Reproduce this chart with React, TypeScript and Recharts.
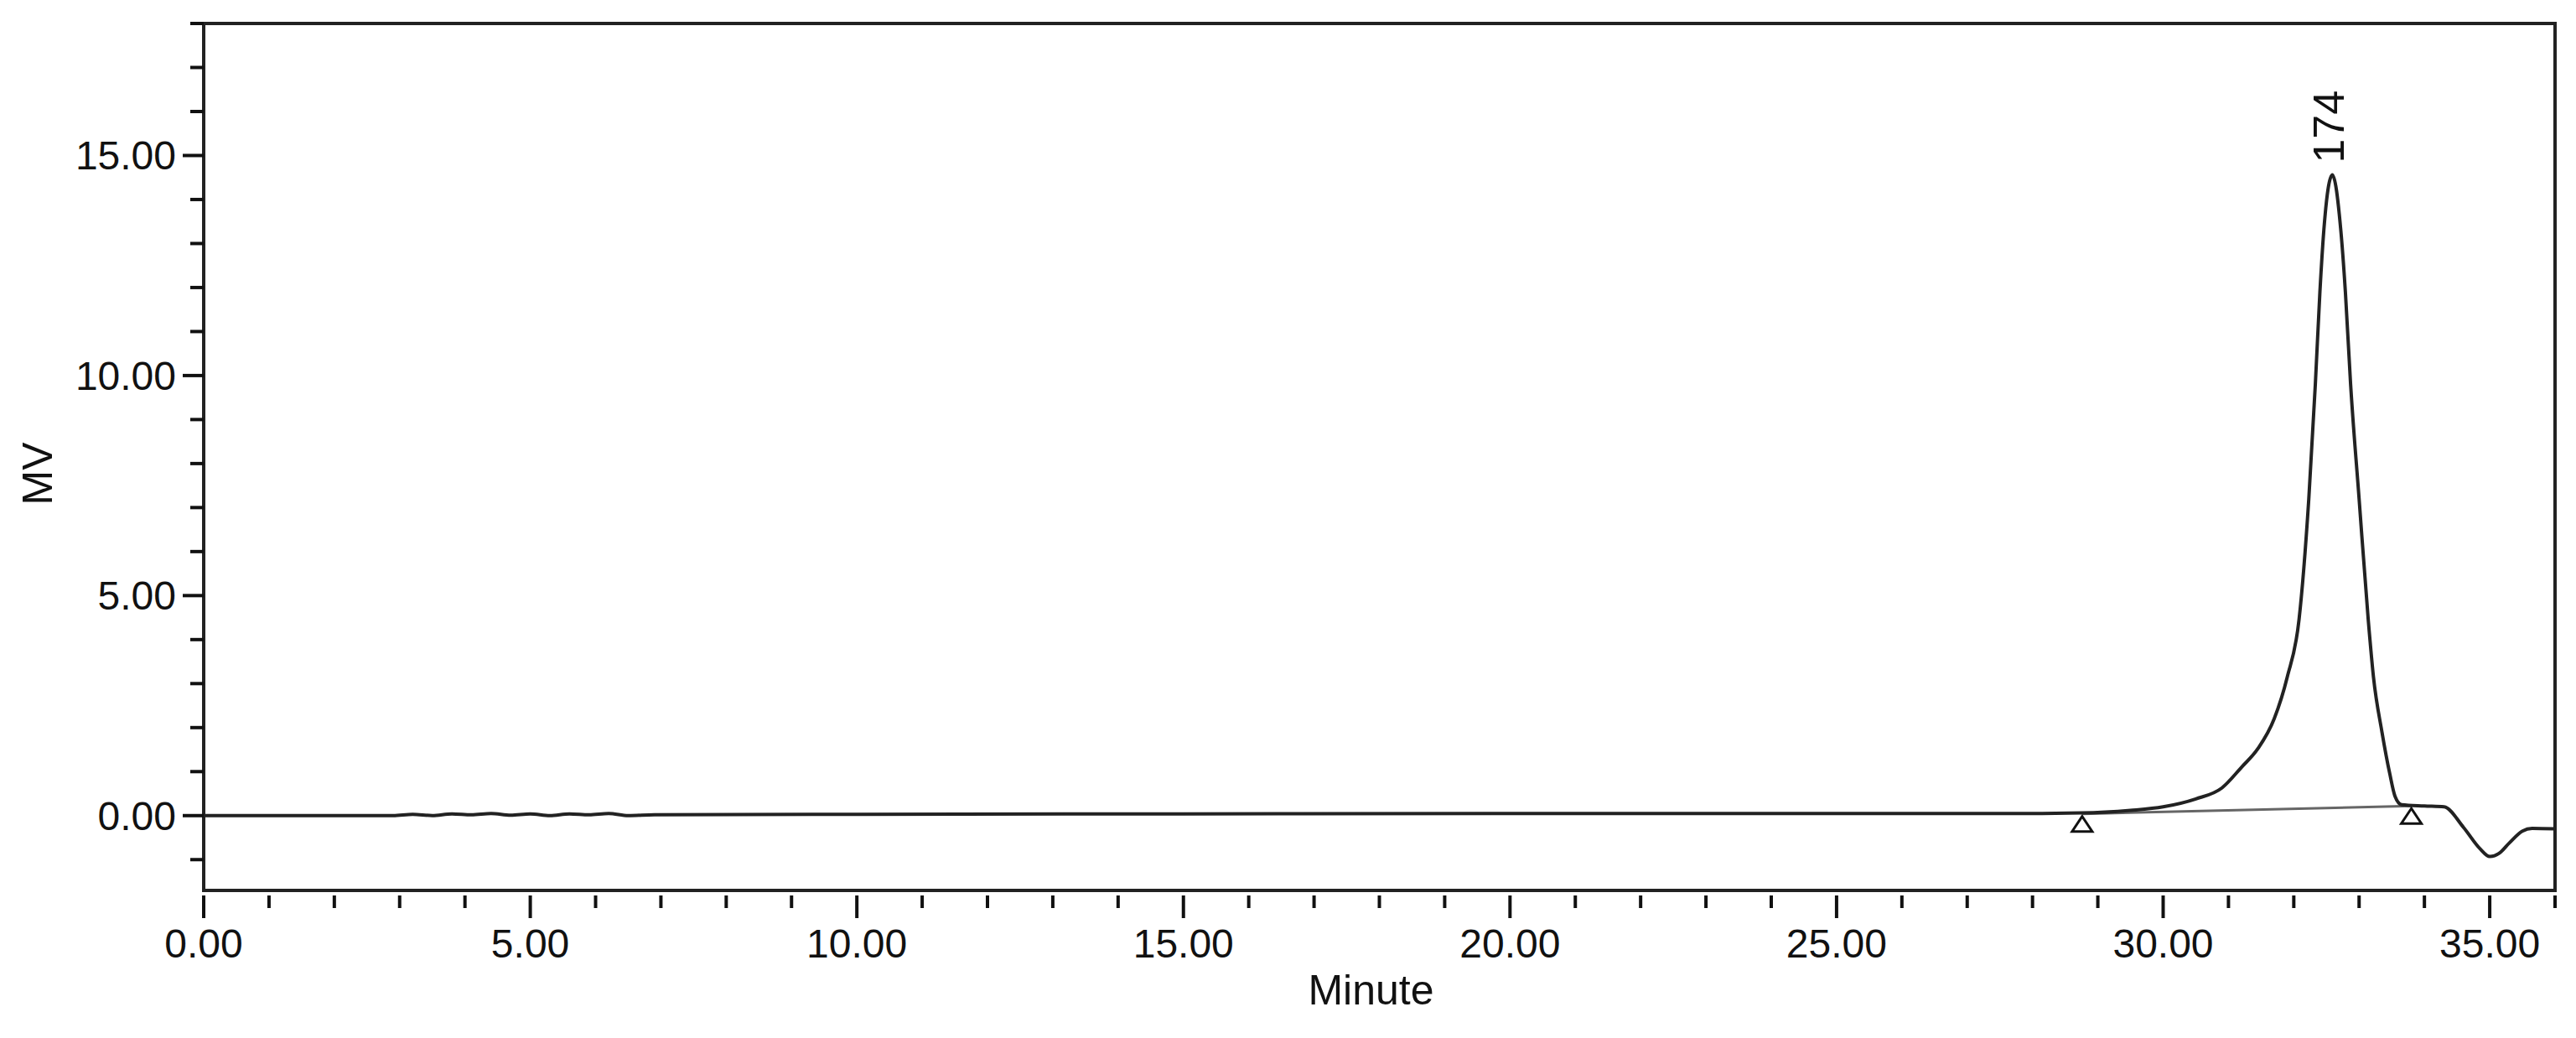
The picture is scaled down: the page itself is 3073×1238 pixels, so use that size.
import React from "react";
import {
  ComposedChart,
  Line,
  XAxis,
  YAxis,
  ReferenceArea,
  ReferenceDot,
} from "recharts";

// retention time (min) and detector signal (mV)
const times = [
  0, 2.9, 3.2, 3.5, 3.8, 4.1, 4.4, 4.7, 5.0, 5.3, 5.6, 5.9, 6.2, 6.5, 6.9, 10, 15, 20, 25, 28,
  28.76, 29.5, 30.0, 30.5, 30.9, 31.2, 31.45, 31.7, 31.9, 32.08, 32.23, 32.33, 32.4, 32.46,
  32.59, 32.72, 32.79, 32.87, 33.0, 33.14, 33.22, 33.35, 33.47, 33.55, 33.65, 34.0, 34.3,
  34.6, 34.85, 35.0, 35.15, 35.3, 35.5, 35.65, 36,
];
const signal = [
  0, 0, 0.03, 0.0, 0.04, 0.02, 0.05, 0.01, 0.04, 0.0, 0.04, 0.02, 0.05, 0.0, 0.02, 0.03, 0.04, 0.05, 0.05, 0.05,
  0.06, 0.12, 0.2, 0.38, 0.63, 1.1, 1.52, 2.2, 3.15, 4.45, 7.2, 9.8, 11.9, 13.3,
  14.56, 13.3, 11.9, 9.8, 7.2, 4.45, 3.15, 1.9, 0.95, 0.44, 0.25, 0.22, 0.2,
  -0.27, -0.75, -0.93, -0.85, -0.62, -0.35, -0.29, -0.3,
];

// integration baseline start / end
const baselineTimes = [28.76, 33.8];
const baselineValues = [0.04, 0.22];

const peakName = "174";

const xTicks = Array.from({ length: 37 }, (_, i) => i);
const yTicks = Array.from({ length: 20 }, (_, i) => i - 1);

const data = times.map((t, i) => ({ t, mv: signal[i] }));
const baseData = baselineTimes.map((t, i) => ({ t, mv: baselineValues[i] }));
const peakIdx = signal.indexOf(Math.max(...signal));

const FONT = "Liberation Sans, Arial, sans-serif";

const XTick = (props: any) => {
  const { x, y, payload } = props;
  const v = payload.value;
  const major = v % 5 === 0;
  return (
    <g>
      <line x1={x} x2={x} y1={y + 6} y2={y + (major ? 33 : 21)} stroke="#111" strokeWidth={4} />
      {major && (
        <text x={x} y={y + 80} textAnchor="middle" fontSize={48} fontFamily={FONT} fill="#111">
          {v.toFixed(2)}
        </text>
      )}
    </g>
  );
};

const YTick = (props: any) => {
  const { x, y, payload } = props;
  const v = payload.value;
  const major = v % 5 === 0;
  return (
    <g>
      <line x1={x - (major ? 25 : 16)} x2={x} y1={y} y2={y} stroke="#111" strokeWidth={4} />
      {major && (
        <text x={x - 33} y={y + 17} textAnchor="end" fontSize={48} fontFamily={FONT} fill="#111">
          {v.toFixed(2)}
        </text>
      )}
    </g>
  );
};

const Tri = (props: any) => {
  const { cx, cy } = props;
  return (
    <polygon
      points={`${cx},${cy + 3} ${cx - 12},${cy + 21} ${cx + 12},${cy + 21}`}
      fill="#fff"
      stroke="#111"
      strokeWidth={3}
    />
  );
};

const PeakLabel = (props: any) => {
  const { viewBox } = props;
  const x = viewBox.x - 4;
  const y = viewBox.y - 14;
  return (
    <text
      x={x}
      y={y}
      transform={`rotate(-90 ${x} ${y})`}
      textAnchor="start"
      dominantBaseline="central"
      fontSize={52}
      fontFamily={FONT}
      fill="#111"
    >
      {peakName}
    </text>
  );
};

export default function App() {
  return (
    <div style={{ width: 3073, height: 1238, background: "#fff" }}>
      <style>{`body{margin:0}`}</style>
      <ComposedChart
        width={3073}
        height={1238}
        margin={{ top: 28, right: 25, left: 43, bottom: 76 }}
      >
        <XAxis
          type="number"
          dataKey="t"
          domain={[0, 36]}
          ticks={xTicks}
          interval={0}
          allowDataOverflow
          axisLine={false}
          tickLine={false}
          tickSize={0}
          tickMargin={0}
          height={100}
          tick={<XTick />}
          label={(p: any) => {
            const vb = p.viewBox;
            return (
              <text
                x={vb.x + vb.width / 2 - 10}
                y={vb.y + 136}
                textAnchor="middle"
                fontSize={50}
                fontFamily={FONT}
                fill="#111"
              >
                Minute
              </text>
            );
          }}
        />
        <YAxis
          type="number"
          domain={[-1.7, 18]}
          ticks={yTicks}
          interval={0}
          allowDataOverflow
          axisLine={false}
          tickLine={false}
          tickSize={0}
          tickMargin={0}
          width={200}
          tick={<YTick />}
          label={() => {
            const cx = 45;
            const cy = 565;
            return (
              <text
                x={cx}
                y={cy}
                transform={`rotate(-90 ${cx} ${cy})`}
                textAnchor="middle"
                dominantBaseline="central"
                fontSize={50}
                fontFamily={FONT}
                fill="#111"
              >
                MV
              </text>
            );
          }}
        />
        <ReferenceArea
          x1={0}
          x2={36}
          y1={-1.7}
          y2={18}
          fill="none"
          stroke="#222"
          strokeWidth={4}
        />
        <Line
          data={baseData}
          dataKey="mv"
          type="linear"
          stroke="#666"
          strokeWidth={3}
          dot={(p: any) => <Tri key={`tri-${p.index}`} {...p} />}
          activeDot={false}
          isAnimationActive={false}
        />
        <Line
          data={data}
          dataKey="mv"
          type="monotone"
          stroke="#222"
          strokeWidth={4}
          dot={false}
          activeDot={false}
          isAnimationActive={false}
        />
        <ReferenceDot
          x={times[peakIdx]}
          y={signal[peakIdx]}
          r={0}
          fill="none"
          stroke="none"
          label={<PeakLabel />}
        />
      </ComposedChart>
    </div>
  );
}
